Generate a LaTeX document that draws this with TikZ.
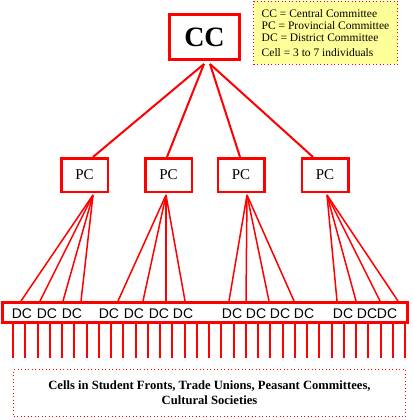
\documentclass[tikz,border=0pt]{standalone}
\usepackage{fontspec}
\setmainfont{Liberation Serif}
\setsansfont{Liberation Sans}
\usetikzlibrary{positioning, calc}
\definecolor{legendyellow}{RGB}{255,255,153}

\begin{document}
\begin{tikzpicture}[
  x=1pt, y=-1pt,
  committee/.style={draw=red, fill=white, inner sep=0pt},
  ccbox/.style={committee, line width=3pt, minimum width=70pt, minimum height=45pt,
                font=\fontsize{28}{30}\selectfont\bfseries},
  pcbox/.style={committee, line width=2.5pt, minimum width=46.5pt, minimum height=33.5pt,
                font=\fontsize{15}{17}\selectfont},
  dcbar/.style={committee, line width=3pt, minimum width=405pt, minimum height=20pt},
  dclabel/.style={inner sep=0pt, font=\sffamily\fontsize{14}{16}\selectfont},
  dotbox/.style={draw=red, line width=1pt, dash pattern=on 1pt off 2.5pt, inner sep=0pt},
  link/.style={red, line width=2pt},
  thinlink/.style={red, line width=1.5pt},
  tick/.style={red, line width=2pt}
]
\useasboundingbox (0,0) rectangle (412,420);

% committees
\node[ccbox] (cc) at (204.5,37) {CC};
\node[pcbox] (pc1) at (84.5,175) {PC};
\node[pcbox] (pc2) at (168.5,175) {PC};
\node[pcbox] (pc3) at (241,175) {PC};
\node[pcbox] (pc4) at (325,175) {PC};
\node[dcbar] (bar) at (205,312.5) {};

% legend
\node[dotbox, fill=legendyellow, minimum width=144pt, minimum height=63pt, align=left,
      font=\fontsize{11.5}{12}\selectfont] (legend) at (325.5,33)
  {CC = Central Committee\\PC = Provincial Committee\\DC = District Committee\\[3pt]Cell = 3 to 7 individuals};

% cells
\node[dotbox, minimum width=392pt, minimum height=47pt, align=center,
      font=\fontsize{12.6}{15}\selectfont\bfseries] (cells) at (209.5,393)
  {Cells in Student Fronts, Trade Unions, Peasant Committees,\\Cultural Societies};

% CC to PC
\coordinate (ccl) at ([xshift=-0.5pt, yshift=-3pt]cc.south);
\coordinate (ccr) at ([xshift=5.5pt, yshift=-3pt]cc.south);
\draw[link] (ccl) -- ([xshift=8.5pt]pc1.north);
\draw[link] (ccl) -- ([xshift=-1.5pt]pc2.north);
\draw[link] (ccr) -- ([xshift=-1pt]pc3.north);
\draw[link] (ccr) -- ([xshift=-12pt]pc4.north);

% PC to DC
\foreach \p/\dx/\ends in {pc1/8.5/{21,40,63,81}, pc2/-2.5/{118,143,166,185},
                          pc3/6/{229,246,269,294}, pc4/2/{337,356,380,398}}{
  \foreach \e in \ends
    \draw[thinlink] ([xshift=\dx pt, yshift=-2pt]\p.south) -- (\e,0 |- bar.north);
}

% DC labels
\foreach \x in {22,47,72,109,134,159,183,232,256,280,304,343,367,387}
  \node[dclabel] (dc\x) at (\x,314) {DC};

% cell ticks
\foreach \i in {0,...,32}{
  \pgfmathsetmacro\tx{13+12.25*\i}
  \draw[tick] (\tx,0 |- bar.south) -- ++(0,34);
}
\end{tikzpicture}
\end{document}
